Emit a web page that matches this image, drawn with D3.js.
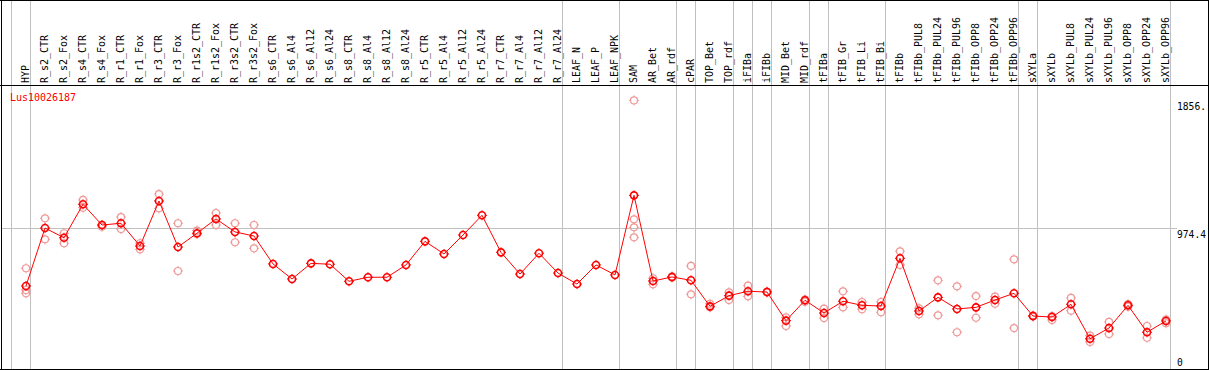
<!DOCTYPE html>
<html>
<head>
<meta charset="utf-8">
<script src="https://cdn.jsdelivr.net/npm/d3@7"></script>
<style>
  body { margin: 0; background: #fff; }
  text { font-family: "DejaVu Sans Mono", monospace; }
</style>
</head>
<body>
<script>
// sample names (columns)
var samples = ["HYP", "R_s2_CTR", "R_s2_Fox", "R_s4_CTR", "R_s4_Fox", "R_r1_CTR", "R_r1_Fox", "R_r3_CTR", "R_r3_Fox",
    "R_r1s2_CTR", "R_r1s2_Fox", "R_r3s2_CTR", "R_r3s2_Fox", "R_s6_CTR", "R_s6_Al4", "R_s6_Al12", "R_s6_Al24",
    "R_s8_CTR", "R_s8_Al4", "R_s8_Al12", "R_s8_Al24", "R_r5_CTR", "R_r5_Al4", "R_r5_Al12", "R_r5_Al24",
    "R_r7_CTR", "R_r7_Al4", "R_r7_Al12", "R_r7_Al24", "LEAF_N", "LEAF_P", "LEAF_NPK", "SAM", "AR_Bet", "AR_rdf",
    "cPAR", "TOP_Bet", "TOP_rdf", "iFIBa", "iFIBb", "MID_Bet", "MID_rdf", "tFIBa", "tFIB_Gr", "tFIB_Li", "tFIB_Bi",
    "tFIBb", "tFIBb_PUL8", "tFIBb_PUL24", "tFIBb_PUL96", "tFIBb_OPP8", "tFIBb_OPP24", "tFIBb_OPP96",
    "sXYLa", "sXYLb", "sXYLb_PUL8", "sXYLb_PUL24", "sXYLb_PUL96", "sXYLb_OPP8", "sXYLb_OPP24", "sXYLb_OPP96"];

// mean expression per sample
var means = [574, 974, 907, 1138, 995, 1007, 850, 1161, 843, 938, 1037, 947, 919, 726, 622, 730, 724,
    606, 634, 634, 719, 882, 795, 926, 1062, 806, 656, 800, 663, 587, 719, 650, 1200, 608, 636,
    613, 433, 507, 537, 532, 334, 475, 387, 468, 440, 435, 765, 401, 495, 415, 426, 477, 523,
    366, 359, 447, 209, 283, 440, 254, 332];

// replicate values per sample
var reps = [[696, 546, 523], [1041, 896], [938, 869], [1168, 1115], [995, 983], [1050, 967], [869, 827],
    [1209, 1110], [1007, 677], [956, 933], [1078, 995], [1007, 876], [995, 834], [], [], [], [],
    [], [], [], [], [], [], [], [], [], [], [], [], [], [], [], [1856, 1034, 979, 910], [627, 585], [640, 632],
    [712, 516], [451, 426], [530, 477], [576, 502], [535, 529], [357, 297], [479, 465], [417, 352],
    [537, 426], [463, 413], [463, 392], [813, 719], [419, 378], [613, 371], [571, 254], [504, 354],
    [500, 451], [758, 283], [370, 362], [366, 339], [491, 403], [230, 187], [325, 242], [449, 431],
    [297, 216], [341, 316]];

// start index of each sample group (gray separators)
var groupStarts = [0, 1, 29, 32, 35, 36, 38, 39, 40, 42, 43, 46, 53, 54, 61];

var geneName = "Lus10026187";
var yTicks = [1856, 974.4, 0];
var yTickLabels = ["1856.", "974.4", "0"];

var w = 1209, h = 370;
var headerH = 85;

var svg = d3.select("body").append("svg").attr("width", w).attr("height", h);

// column band scale
var x = d3.scaleBand().domain(d3.range(samples.length)).range([11, 11 + 19 * samples.length]);
var cx = function (i) { return x(i) + 15; };
var y = d3.scaleLinear().domain([0, 1856]).range([369, 100.4]);

// gray separators
svg.selectAll(".sep").data(groupStarts).enter().append("line")
    .attr("x1", d => Math.round(11 + 19 * d) + 0.5).attr("x2", d => Math.round(11 + 19 * d) + 0.5)
    .attr("y1", 0).attr("y2", 369)
    .attr("stroke", "#c0c0c0").attr("shape-rendering", "crispEdges");

// gray reference line
svg.append("line").attr("x1", 1).attr("x2", 1177)
    .attr("y1", Math.round(y(974.4)) + 0.5).attr("y2", Math.round(y(974.4)) + 0.5)
    .attr("stroke", "#c0c0c0").attr("shape-rendering", "crispEdges");

// frame
var frame = svg.append("g").attr("stroke", "#000").attr("shape-rendering", "crispEdges");
frame.append("line").attr("x1", 0).attr("x2", w).attr("y1", 0.5).attr("y2", 0.5);
frame.append("line").attr("x1", 0).attr("x2", w).attr("y1", headerH + 0.5).attr("y2", headerH + 0.5);
frame.append("line").attr("x1", 0).attr("x2", w).attr("y1", 369.5).attr("y2", 369.5);
frame.append("line").attr("x1", 1.5).attr("x2", 1.5).attr("y1", 0).attr("y2", h);
frame.append("line").attr("x1", 1208.5).attr("x2", 1208.5).attr("y1", 0).attr("y2", h);

// header labels
svg.selectAll(".lab").data(samples).enter().append("text")
    .attr("transform", (d, i) => "translate(" + (cx(i) + 3) + "," + 83 + ") rotate(-90)")
    .attr("font-size", 11)
    .attr("textLength", d => d.length * 6).attr("lengthAdjust", "spacingAndGlyphs")
    .text(d => d);

// right axis labels
svg.selectAll(".ylab").data(yTicks).enter().append("text")
    .attr("x", 1177).attr("y", d => Math.min(y(d) + 10, 366))
    .attr("font-size", 11)
    .attr("textLength", (d, i) => yTickLabels[i].length * 5.8).attr("lengthAdjust", "spacingAndGlyphs")
    .text((d, i) => yTickLabels[i]);

// gene name
svg.append("text").attr("x", 10).attr("y", 101).attr("font-size", 11).attr("fill", "red")
    .attr("textLength", geneName.length * 6).attr("lengthAdjust", "spacingAndGlyphs")
    .text(geneName);

function marker(g, color, sw) {
    g.append("circle").attr("r", 3.5).attr("fill", "none").attr("stroke", color).attr("stroke-width", sw);
    g.append("path").attr("d", "M0,-5V-3.5M0,3.5V5M-5,0H-3.5M3.5,0H5")
        .attr("stroke", color).attr("stroke-width", 1);
}

// replicates
var repPts = [];
reps.forEach(function (r, i) { r.forEach(function (v) { repPts.push({ i: i, v: v }); }); });
svg.selectAll(".rep").data(repPts).enter().append("g").attr("class", "rep")
    .attr("transform", d => "translate(" + cx(d.i) + "," + y(d.v) + ")")
    .each(function () { marker(d3.select(this), "#f09898", 1.2); });

// mean line
var line = d3.line().x((d, i) => cx(i)).y(d => y(d));
svg.append("path").datum(means).attr("d", line).attr("fill", "none").attr("stroke", "red").attr("stroke-width", 1);

// mean markers
svg.selectAll(".mean").data(means).enter().append("g").attr("class", "mean")
    .attr("transform", (d, i) => "translate(" + cx(i) + "," + y(d) + ")")
    .each(function () { marker(d3.select(this), "red", 1.6); });
</script>
</body>
</html>
